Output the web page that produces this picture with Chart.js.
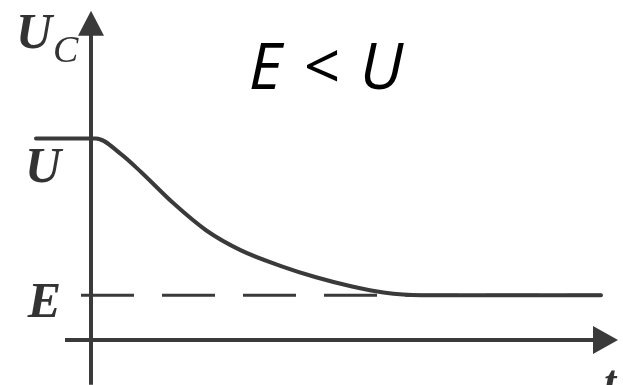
<!DOCTYPE html>
<html>
<head>
<meta charset="utf-8">
<script src="https://cdn.jsdelivr.net/npm/chart.js@4"></script>
<style>
  html, body { margin: 0; padding: 0; background: #fff; }
  #wrap { width: 623px; height: 385px; }
</style>
</head>
<body>
<div id="wrap"><canvas id="c" width="623" height="385"></canvas></div>
<script>
// Capacitor voltage relaxing from U down to the source voltage E
const U = 9;
const E = 2;
const times = [-1.1, 0.1, 0.6, 1.0, 1.65, 2.3, 3.0, 3.8, 4.5, 5.2, 5.85, 6.6, 10.2];
const voltages = [9, 9, 8.3, 7.5, 6.1, 4.9, 4.0, 3.3, 2.8, 2.4, 2.12, 2.0, 2.0];
const levelNames = ['U', 'E'];
const levelValues = [U, E];
const eLineSpan = [-0.2, 10.2];
const axisLabelY = ['U', 'C'];
const axisLabelX = 't';
const caption = 'E < U';

const INK = '#3a3a3a';

const curve = times.map((t, i) => ({ x: t, y: voltages[i] }));
const eLine = eLineSpan.map(t => ({ x: t, y: E }));

function arrow(ctx, tipX, tipY, dirX, dirY, len, half) {
  const bx = tipX - dirX * len, by = tipY - dirY * len;
  const px = -dirY, py = dirX;
  ctx.beginPath();
  ctx.moveTo(tipX, tipY);
  ctx.lineTo(bx + px * half, by + py * half);
  ctx.lineTo(bx - px * half, by - py * half);
  ctx.closePath();
  ctx.fill();
}

const axesPlugin = {
  id: 'axesArrows',
  beforeDatasetsDraw(chart) {
    const { ctx, scales: { x, y } } = chart;
    const x0 = x.getPixelForValue(0);
    const y0 = y.getPixelForValue(0);
    ctx.save();
    ctx.strokeStyle = INK;
    ctx.fillStyle = INK;
    ctx.lineWidth = 4;
    // vertical axis
    const yTop = y.getPixelForValue(14.7);
    const yBottom = y.getPixelForValue(-2.0);
    ctx.beginPath();
    ctx.moveTo(x0, yBottom);
    ctx.lineTo(x0, yTop + 20);
    ctx.stroke();
    arrow(ctx, x0, yTop, 0, -1, 25, 13);
    // horizontal axis
    const xLeft = x.getPixelForValue(-0.52);
    const xRight = x.getPixelForValue(10.54);
    ctx.beginPath();
    ctx.moveTo(xLeft, y0);
    ctx.lineTo(xRight - 20, y0);
    ctx.stroke();
    arrow(ctx, xRight, y0, 1, 0, 25, 14);
    ctx.restore();
  },
  afterDraw(chart) {
    const { ctx, scales: { x, y } } = chart;
    const x0 = x.getPixelForValue(0);
    ctx.save();
    ctx.fillStyle = '#333';
    ctx.textBaseline = 'alphabetic';
    // axis names
    ctx.textAlign = 'left';
    ctx.font = 'bold italic 50px "Liberation Serif"';
    ctx.fillText(axisLabelY[0], 16, 48);
    ctx.font = 'italic 38px "Liberation Serif"';
    ctx.fillText(axisLabelY[1], 53, 62);
    ctx.font = 'bold italic 44px "Liberation Serif"';
    ctx.fillText(axisLabelX, 604, 396);
    // level names beside the vertical axis
    ctx.font = 'bold italic 50px "Liberation Serif"';
    ctx.textAlign = 'right';
    const offsets = [44, 22];
    levelNames.forEach((name, i) => {
      ctx.fillText(name, x0 - 30, y.getPixelForValue(levelValues[i]) + offsets[i]);
    });
    // caption
    ctx.fillStyle = '#000';
    ctx.textAlign = 'center';
    ctx.font = 'italic 64px "Open Sans"';
    ctx.letterSpacing = '2px';
    ctx.fillText(caption, 327, 89);
    ctx.restore();
  }
};

new Chart(document.getElementById('c'), {
  type: 'line',
  data: {
    datasets: [
      {
        data: curve,
        borderColor: INK,
        borderWidth: 4,
        pointRadius: 0,
        cubicInterpolationMode: 'monotone',
        borderCapStyle: 'round',
        fill: false
      },
      {
        data: eLine,
        borderColor: INK,
        borderWidth: 3,
        borderDash: [53, 28],
        pointRadius: 0,
        fill: false
      }
    ]
  },
  options: {
    responsive: false,
    animation: false,
    devicePixelRatio: 1,
    layout: { padding: 0 },
    plugins: { legend: { display: false }, tooltip: { enabled: false } },
    scales: {
      x: { type: 'linear', min: -1.82, max: 10.64, display: false },
      y: { type: 'linear', min: -2.01, max: 15.18, display: false }
    }
  },
  plugins: [axesPlugin]
});
</script>
</body>
</html>
